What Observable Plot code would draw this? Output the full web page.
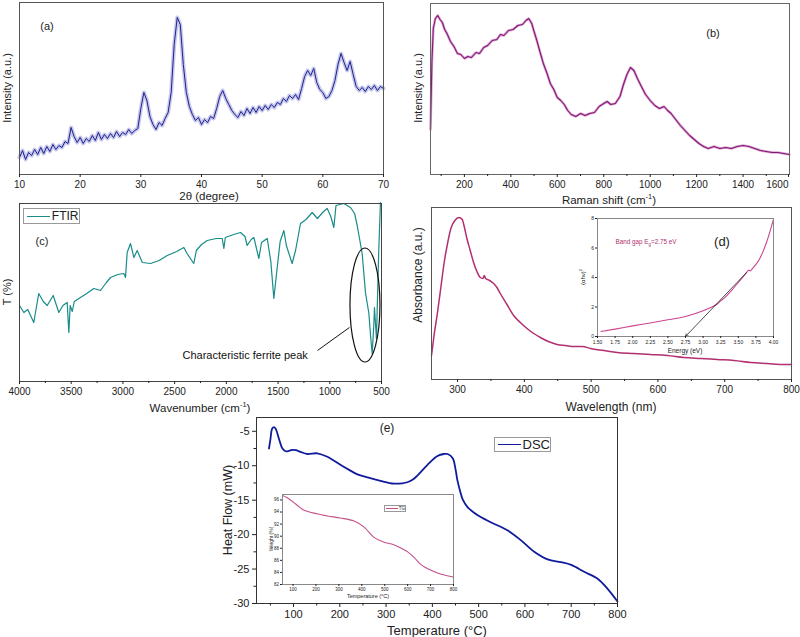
<!DOCTYPE html>
<html><head><meta charset="utf-8">
<script src="https://cdn.jsdelivr.net/npm/d3@7"></script>
<script src="https://cdn.jsdelivr.net/npm/@observablehq/plot@0.6"></script>
<style>
body{margin:0;background:#fff;}
#fig{position:relative;width:800px;height:637px;overflow:hidden;font-family:"Liberation Sans",Arial,Helvetica,sans-serif;background:#fff;}
.t{position:absolute;white-space:nowrap;color:#222;transform:translate(-50%,-50%);line-height:1;}
.r{transform:translate(-50%,-50%) rotate(-90deg);}
.lg{position:absolute;border:1px solid #999;background:#fff;display:flex;align-items:center;box-sizing:border-box;white-space:nowrap;color:#222;}
.lg span.ln{display:inline-block;}
</style></head><body><div id="fig"></div>
<script>
// ---------- (a) XRD ----------
const xrdTheta = d3.range(10, 70.001, 0.5);
const xrdIntensity = [
 17,24,15,22,19,25,20,27,21,28,
 23,30,25,29,27,33,31,47,38,32,
 37,31,36,33,39,34,42,35,40,36,
 41,37,43,38,42,40,45,41,44,46,
 66,82,74,58,50,45,52,49,56,62,
 82,130,157,150,110,82,68,60,54,57,
 50,55,52,58,56,66,78,84,76,70,
 64,60,57,63,59,66,61,67,62,68,
 64,69,65,70,67,72,70,76,73,79,
 76,80,75,86,98,104,99,106,92,85,
 82,76,78,84,94,110,121,112,104,113,
 100,88,84,87,83,88,85,89,84,88,
 86];
const xrdTicks = [10,20,30,40,50,60,70];

// ---------- (b) Raman ----------
const ramanShift = [54,60,66,75,85,95,105,115,125,140,155,170,185,200,215,230,250,265,283,300,320,340,355,370,390,410,430,450,465,477,490,500,512,525,540,556,570,585,600,615,630,645,660,680,700,720,740,760,780,800,815,830,850,870,885,900,915,930,945,960,980,1000,1020,1040,1060,1075,1090,1110,1130,1150,1170,1190,1210,1230,1250,1275,1300,1325,1350,1375,1400,1425,1450,1475,1500,1525,1550,1575,1600];
const ramanIntensity = [45,112,146,156,159,155,152,145,141,133,128,121,120,116,118,117,122,121,127,129,134,135,140,139,144,145,149,150,154,156,151,143,134,123,111,101,91,85,77,74,70,64,60,58,61,59,61,62,68,71,73,70,71,78,90,100,107,104,96,89,80,74,69,66,68,64,61,55,49,44,39,35,31,28,26,28,26,27,26,28,29,28,26,24,23,22,22,21,20];
const ramanTicks = [200,400,600,800,1000,1200,1400];
const ramanLastTick = [1600];
const ramanMinor = [100,300,500,700,900,1100,1300,1500];

// ---------- (c) FTIR ----------
const ftirWavenumber = [4000,3958,3920,3862,3814,3770,3732,3674,3620,3580,3539,3523,3510,3490,3470,3426,3350,3282,3217,3160,3120,3050,2991,2975,2959,2927,2894,2862,2813,2733,2650,2572,2480,2411,2380,2315,2290,2240,2185,2100,2040,2024,2010,1930,1863,1820,1799,1760,1734,1686,1660,1605,1570,1541,1520,1480,1444,1420,1364,1331,1283,1230,1170,1120,1060,1025,990,961,940,864,800,760,735,687,655,622,606,590,575,568,549,526,510];
const ftirT = [76,69,72,59,88,80,76,86,69,76,79,49,76,70,80,83,88,93,91,99,104,107,108,104,129,138,124,131,119,118,121,126,130,134,128,118,131,137,141,143,143,133,144,147,149,145,136,142,144,123,139,143,120,83,103,140,151,136,118,131,158,162,169,163,170,173,165,154,176,178,174,168,156,128,89,68,46,28,55,74,43,133,179];
const ftirTicks = [4000,3500,3000,2500,2000,1500,1000,500];
const ftirMinor = [3750,3250,2750,2250,1750,1250,750];

// ---------- (d) UV-Vis ----------
const uvWavelength = [261,265,270,275,280,285,290,296,302,307,310,314,319,324,329,334,338,340,342,348,354,359,364,374,384,394,404,414,424,436,449,462,474,487,499,519,539,564,589,614,639,664,689,714,739,764,789,800];
const uvAbsorbance = [24,45,67,92,117,136,151,159,162,160,153,141,129,117,108,102,101,104,101,99,96,92,86,75,64,57,51,46,42,38,35,34,33,33,31,29,27,26,25,24,22,21,20,19,17,16,15,15];
const uvTicks = [300,400,500,600,700,800];
const uvMinor = [350,450,550,650,750];

// inset (d) Tauc plot
const taucEnergy = [1.55,1.75,2.0,2.25,2.5,2.75,3.0,3.1,3.2,3.25,3.3,3.4,3.5,3.6,3.65,3.67,3.7,3.8,3.9,4.0];
const taucValue = [0.34,0.5,0.72,0.92,1.13,1.36,1.74,1.95,2.2,2.42,2.6,3.1,3.66,4.23,4.5,4.45,4.6,5.24,6.37,7.95];
const tangentEnergy = [3.62, 2.75];
const tangentValue = [4.35, 0];
const taucXTicks = [1.5,1.75,2.0,2.25,2.5,2.75,3.0,3.25,3.5,3.75,4.0];
const taucYTicks = [0,2,4,6,8];

// ---------- (e) DSC ----------
const dscTemperature = [47,50,54,58,62,65,70,76,83,90,97,105,115,130,151,173,202,220,238,260,288,317,335,346,358,368,389,411,425,433,444,450,454,460,465,476,498,526,563,591,620,649,678,700,728,757,779,800];
const dscHeatFlow = [-7.5,-6.2,-4.6,-4.4,-4.7,-5.3,-6.4,-7.5,-7.9,-7.85,-7.7,-7.75,-8.0,-8.3,-8.2,-8.7,-9.9,-10.6,-11.25,-11.7,-12.2,-12.6,-12.55,-12.4,-12.0,-11.4,-9.9,-8.6,-8.3,-8.3,-8.9,-10.5,-12.1,-13.7,-14.8,-16.0,-17.2,-18.2,-19.4,-20.8,-22.5,-23.6,-24.0,-24.4,-25.4,-26.4,-27.9,-29.7];
const dscXTicks = [100,200,300,400,500,600,700,800];
const dscXMinor = [50,150,250,350,450,550,650,750];
const dscYTicks = [-5,-10,-15,-20,-25,-30];
const dscYMinor = [-7.5,-12.5,-17.5,-22.5,-27.5];

// inset (e) TG
const tgTemperature = [55,73,103,125,146,205,250,307,366,410,430,453,497,530,556,600,630,658,702,746,800];
const tgWeight = [96.75,96.4,95.6,94.9,94.35,93.7,93.35,93.0,92.5,91.5,90.7,89.8,89.0,88.7,88.3,87.4,86.4,85.3,84.35,83.7,83.25];
const tgXTicks = [100,200,300,400,500,600,700,800];
const tgYTicks = [82,84,86,88,90,92,94,96];

// ---------- helpers ----------
const FONT = '"Liberation Sans", Arial, Helvetica, sans-serif';
const fig = document.getElementById("fig");
const zip = (xs, ys) => xs.map((x, i) => ({x, y: ys[i]}));
function st(size){ return {background:"transparent", overflow:"visible", fontFamily:FONT, fontSize:size+"px", color:"#222"}; }
function place(svg, left, top){ svg.style.position="absolute"; svg.style.left=left+"px"; svg.style.top=top+"px"; fig.appendChild(svg); return svg; }
function txt(html, x, y, size, opts={}){ const d=document.createElement("div"); d.className="t"+(opts.rot?" r":""); d.innerHTML=html; d.style.left=x+"px"; d.style.top=y+"px"; d.style.fontSize=size+"px"; if(opts.color) d.style.color=opts.color; fig.appendChild(d); return d; }
function legend(label, color, left, top, w, h, lineW, size, sw){ const d=document.createElement("div"); d.className="lg"; Object.assign(d.style,{left:left+"px",top:top+"px",width:w+"px",height:h+"px",fontSize:size+"px",paddingLeft:Math.max(1,size*0.25)+"px"}); d.innerHTML=`<span class="ln" style="width:${lineW}px;border-top:${sw}px solid ${color};margin-right:${Math.max(1,size*0.15)}px"></span><span>${label}</span>`; fig.appendChild(d); }
const blank = () => "";
const plain = d => String(d);

// ---------- (a) ----------
place(Plot.plot({
  width:400, height:200, marginTop:2, marginRight:17, marginBottom:26, marginLeft:19,
  x:{domain:[10,70]}, y:{domain:[0,172], axis:null}, style:st(10),
  marks:[
    Plot.line(zip(xrdTheta, xrdIntensity), {x:"x", y:"y", stroke:"#b3b6e6", strokeWidth:4, strokeOpacity:0.75}),
    Plot.line(zip(xrdTheta, xrdIntensity), {x:"x", y:"y", stroke:"#20208c", strokeWidth:1}),
    Plot.frame({stroke:"#555"}),
    Plot.axisX({ticks:xrdTicks, tickSize:3, tickPadding:3, tickFormat:plain, label:null})
  ]
}), 0, 0);

// ---------- (b) ----------
place(Plot.plot({
  width:400, height:200, marginTop:3, marginRight:11, marginBottom:26, marginLeft:30,
  x:{domain:[54,1600]}, y:{domain:[0,171], axis:null}, style:st(10),
  marks:[
    Plot.line(zip(ramanShift, ramanIntensity), {x:"x", y:"y", stroke:"#d9a6d0", strokeWidth:2.6}),
    Plot.line(zip(ramanShift, ramanIntensity), {x:"x", y:"y", stroke:"#861777", strokeWidth:1.1}),
    Plot.frame({stroke:"#666"}),
    Plot.axisX({ticks:ramanMinor, tickSize:2, tickFormat:blank, label:null}),
    Plot.axisX({ticks:ramanTicks, tickSize:3, tickPadding:3, tickFormat:plain, label:null}),
    Plot.axisX({ticks:ramanLastTick, tickSize:3, tickPadding:3, tickFormat:plain, label:null, dx:-1, textAnchor:"end"})
  ]
}), 400, 0);

// ---------- (c) ----------
const figC = place(Plot.plot({
  width:400, height:215, marginTop:3, marginRight:19, marginBottom:34, marginLeft:19,
  x:{domain:[4000,500]}, y:{domain:[0,178], axis:null}, style:st(10),
  marks:[
    Plot.line(zip(ftirWavenumber, ftirT), {x:"x", y:"y", stroke:"#178c88", strokeWidth:1.2}),
    Plot.frame({stroke:"#444"}),
    Plot.axisX({ticks:ftirMinor, tickSize:2, tickFormat:blank, label:null}),
    Plot.axisX({ticks:ftirTicks, tickSize:3, tickPadding:3, tickFormat:plain, label:null}),
    Plot.link([{x1:1119, y1:31, x2:810, y2:54}], {x1:"x1", y1:"y1", x2:"x2", y2:"y2", stroke:"#111", strokeWidth:1}),
    Plot.text(["Characteristic ferrite peak"], {x:2424, y:26, text:d=>d, textAnchor:"start", fontSize:11, fill:"#111"})
  ]
}), 0, 200);
{
  const sx = figC.scale("x"), sy = figC.scale("y");
  const cx = sx.apply(655), cy = sy.apply(76);
  const rx = Math.abs(sx.apply(655+145) - cx), ry = Math.abs(sy.apply(76+57) - cy);
  d3.select(figC).append("ellipse").attr("cx",cx).attr("cy",cy).attr("rx",rx).attr("ry",ry)
    .attr("fill","none").attr("stroke","#111").attr("stroke-width",1.2);
}

// ---------- (d) ----------
place(Plot.plot({
  width:400, height:215, marginTop:7, marginRight:9, marginBottom:36, marginLeft:31,
  x:{domain:[261,800]}, y:{domain:[0,172], axis:null}, style:st(10),
  marks:[
    Plot.line(zip(uvWavelength, uvAbsorbance), {x:"x", y:"y", stroke:"#b22f70", strokeWidth:1.5, curve:"monotone-x"}),
    Plot.frame({stroke:"#555"}),
    Plot.axisX({ticks:uvMinor, tickSize:2, tickFormat:blank, label:null}),
    Plot.axisX({ticks:uvTicks, tickSize:3, tickPadding:3, tickFormat:plain, label:null})
  ]
}), 400, 200);

// inset (d)
place(Plot.plot({
  width:230, height:150, marginTop:8, marginRight:17, marginBottom:24, marginLeft:37,
  x:{domain:[1.5,4.0]}, y:{domain:[0,8]}, style:st(5),
  marks:[
    Plot.line(zip(taucEnergy, taucValue), {x:"x", y:"y", stroke:"#cc4490", strokeWidth:1.1, curve:"monotone-x"}),
    Plot.arrow([{e1:tangentEnergy[0], v1:tangentValue[0], e2:tangentEnergy[1], v2:tangentValue[1]}], {x1:"e1", y1:"v1", x2:"e2", y2:"v2", stroke:"#222", strokeWidth:0.8, headLength:5}),
    Plot.frame({stroke:"#888"}),
    Plot.axisX({ticks:taucXTicks, tickSize:2, tickPadding:1.5, tickFormat:d=>d.toFixed(2), label:null}),
    Plot.axisY({ticks:taucYTicks, tickSize:2, tickPadding:1.5, tickFormat:plain, label:null})
  ]
}), 560, 210);

// ---------- (e) ----------
place(Plot.plot({
  width:420, height:227, marginTop:7, marginRight:3, marginBottom:34, marginLeft:56,
  x:{domain:[20,800]}, y:{domain:[-30,-3]}, style:st(11),
  marks:[
    Plot.line(zip(dscTemperature, dscHeatFlow), {x:"x", y:"y", stroke:"#0f1b9c", strokeWidth:1.8, curve:"catmull-rom"}),
    Plot.frame({stroke:"#333"}),
    Plot.axisX({ticks:dscXMinor, tickSize:2.5, tickFormat:blank, label:null}),
    Plot.axisX({ticks:dscXTicks, tickSize:4, tickPadding:3, tickFormat:plain, label:null}),
    Plot.axisY({ticks:dscYMinor, tickSize:2.5, tickFormat:blank, label:null}),
    Plot.axisY({ticks:dscYTicks, tickSize:4, tickPadding:3, tickFormat:plain, label:null})
  ]
}), 200, 410);

// inset (e)
place(Plot.plot({
  width:210, height:120, marginTop:9, marginRight:17, marginBottom:21, marginLeft:22,
  x:{domain:[54,800]}, y:{domain:[82,96.9]}, style:st(4.5),
  marks:[
    Plot.line(zip(tgTemperature, tgWeight), {x:"x", y:"y", stroke:"#c4508a", strokeWidth:1.1, curve:"catmull-rom"}),
    Plot.frame({stroke:"#888"}),
    Plot.axisX({ticks:tgXTicks, tickSize:2, tickPadding:1.5, tickFormat:plain, label:null}),
    Plot.axisY({ticks:tgYTicks, tickSize:2, tickPadding:1.5, tickFormat:plain, label:null})
  ]
}), 260, 485);

// ---------- text labels ----------
txt("Intensity (a.u.)", 7, 88, 11, {rot:true});
txt("2θ (degree)", 209, 197, 11.5);
txt("(a)", 47, 26, 11);
txt("Intensity (a.u.)", 418, 88, 11, {rot:true});
txt("Raman shift (cm<sup style='font-size:0.65em'>-1</sup>)", 609, 200, 11.5);
txt("(b)", 713, 33, 11);
txt("T (%)", 7, 292, 11, {rot:true});
txt("Wavenumber (cm<sup style='font-size:0.65em'>-1</sup>)", 200, 408, 11.5);
txt("(c)", 42, 241, 11);
txt("Absorbance (a.u.)", 418, 275, 12, {rot:true});
txt("Wavelength (nm)", 611, 407, 12);
txt("(d)", 722, 241, 13);
txt("Band gap E<sub style='font-size:0.7em'>g</sub>=2.75 eV", 646, 243, 6.3, {color:"#b0306e"});
txt("(αhν)<sup style='font-size:0.7em'>2</sup>", 582, 277, 6, {rot:true});
txt("Energy (eV)", 685, 351, 6.5);
txt("Heat Flow (mW)", 228, 510, 12.5, {rot:true});
txt("Temperature (°C)", 437, 630, 13);
txt("(e)", 387, 428, 12);
txt("Weight (%)", 271, 539, 5, {rot:true});
txt("Temperature (°C)", 368, 597, 5.5);

legend("FTIR", "#178c88", 23, 208, 57, 16, 23, 12, 1.5);
legend("DSC", "#0f1b9c", 494, 437, 57, 15, 25, 13, 1.8);
legend("TG", "#c4508a", 384, 505, 22, 7, 12, 4.5, 1);
</script></body></html>
